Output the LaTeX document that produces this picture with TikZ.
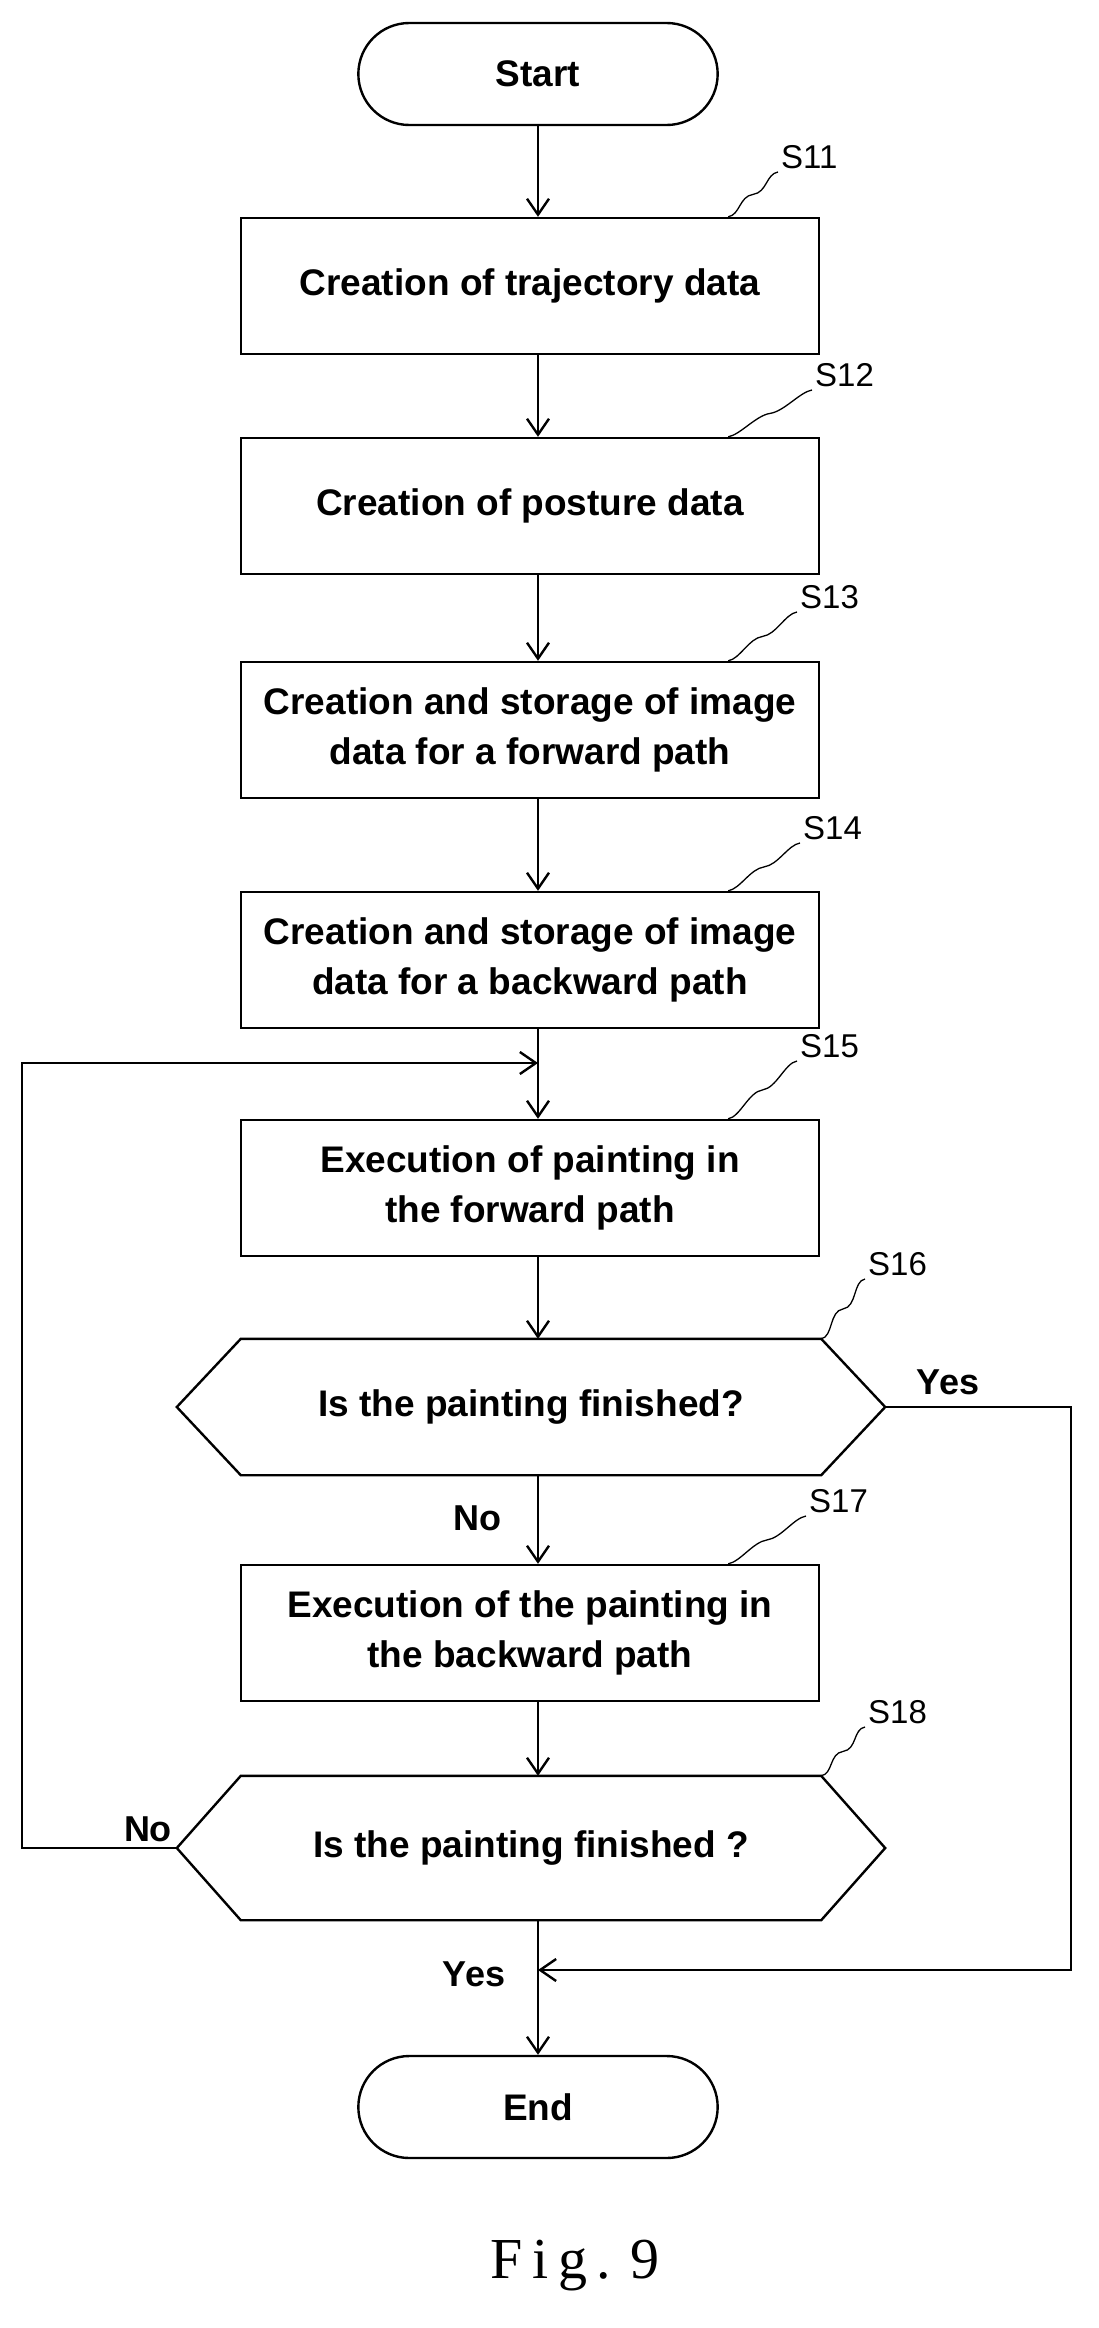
\documentclass[tikz,border=0pt]{standalone}
\usepackage{fontspec}
\setmainfont{Liberation Sans}
\newfontfamily\figfont{Liberation Serif}
\usetikzlibrary{arrows.meta,shapes.misc,calc}
\begin{document}
\begin{tikzpicture}[x=1pt,y=-1pt,line width=2.4pt,
  txt/.style={font=\fontsize{37}{50}\selectfont\bfseries},
  box/.style={draw,minimum width=578pt,minimum height=136pt,align=center,txt},
  term/.style={draw,rounded rectangle,minimum width=366pt,minimum height=102pt,txt},
  arr/.style={-{Straight Barb[length=16pt,width=22pt]}},
  lab/.style={font=\fontsize{36}{42}\selectfont\bfseries},
  stp/.style={font=\fontsize{33}{38}\selectfont,anchor=south west,inner sep=2pt}]
\useasboundingbox (0,0) rectangle (1099,2328);
\node[term] (start) at (538,74) {Start};
\node[box] (s11) at (530,286) {Creation of trajectory data};
\node[box] (s12) at (530,506) {Creation of posture data};
\node[box] (s13) at (530,730) {Creation and storage of image\\data for a forward path};
\node[box] (s14) at (530,960) {Creation and storage of image\\data for a backward path};
\node[box] (s15) at (530,1188) {Execution of painting in\\the forward path};
\node[minimum width=706pt,minimum height=134pt,inner sep=0pt] (s16b) at (531,1407) {};
\node[box] (s17) at (530,1633) {Execution of the painting in\\the backward path};
\node[minimum width=706pt,minimum height=142pt,inner sep=0pt] (s18b) at (531,1848) {};
\node[term] (end) at (538,2107) {End};
\foreach \n/\t in {s16b/{Is the painting finished?},s18b/{Is the painting finished ?}}{
  \draw ([xshift=64pt]\n.north west) -- ([xshift=-64pt]\n.north east) -- (\n.east) -- ([xshift=-64pt]\n.south east) -- ([xshift=64pt]\n.south west) -- (\n.west) -- cycle;
  \node[txt] at (\n.center) {\t};
}
\draw[arr] (start.south) -- (start.south|-s11.north);
\draw[arr] (s11.south-|start) -- (start|-s12.north);
\draw[arr] (s12.south-|start) -- (start|-s13.north);
\draw[arr] (s13.south-|start) -- (start|-s14.north);
\draw[arr] (s14.south-|start) -- (start|-s15.north);
\draw[arr] (s15.south-|start) -- (start|-s16b.north);
\draw[arr] (s16b.south-|start) -- (start|-s17.north);
\draw[arr] (s17.south-|start) -- (start|-s18b.north);
\draw[arr] (s18b.south-|start) -- (end.north);
\coordinate (l1) at (22,1848); \coordinate (l2) at (22,1063);
\draw[arr] (s18b.west) -- (l1) -- (l2) -- (538,1063);
\coordinate (r1) at (1071,1407); \coordinate (r2) at (1071,1970);
\draw[arr] (s16b.east) -- (r1) -- (r2) -- (538,1970);
\node[lab] at (948,1382) {Yes};
\node[lab] at (477,1518) {No};
\node[lab] at (148,1829) {No};
\node[lab] at (474,1974) {Yes};
\foreach \n/\t/\lx/\ly in {s11/S11/778/172,s12/S12/812/390,s13/S13/797/612,s14/S14/800/843,s15/S15/797/1061,s17/S17/806/1516}{
  \node[stp] (t\t) at (\lx,\ly) {\t};
  \draw[line width=1.3pt] ([xshift=-92pt]\n.north east) .. controls +(12,-2) and +(-14,2) .. ($([xshift=-92pt]\n.north east)!0.5!(t\t.south west)$) .. controls +(14,-2) and +(-12,2) .. (t\t.south west);
}
\foreach \n/\t/\lx/\ly in {s16b/S16/865/1279,s18b/S18/865/1727}{
  \node[stp] (t\t) at (\lx,\ly) {\t};
  \draw[line width=1.3pt] ([xshift=-64pt]\n.north east) .. controls +(12,-2) and +(-14,2) .. ($([xshift=-64pt]\n.north east)!0.5!(t\t.south west)$) .. controls +(14,-2) and +(-12,2) .. (t\t.south west);
}
\node[font=\fontsize{58}{64}\selectfont\figfont] (fig) at (575,2266) {F\,i\,g\,.\,\,9};
\end{tikzpicture}
\end{document}
